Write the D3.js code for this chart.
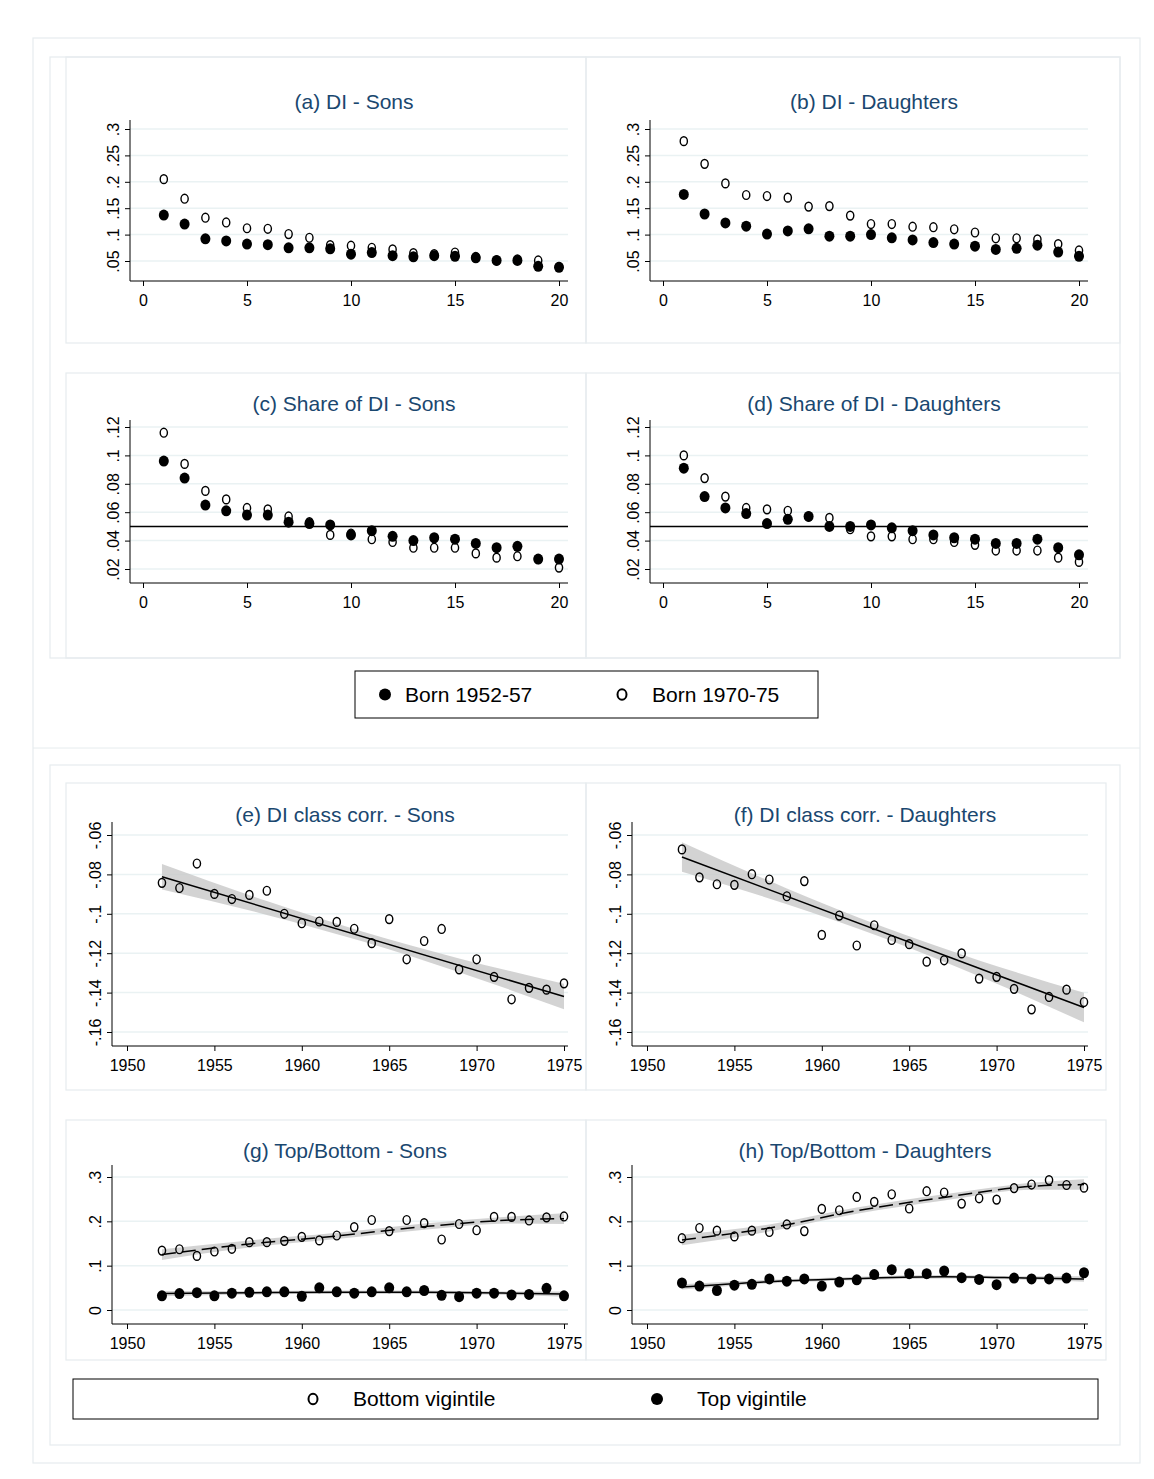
<!DOCTYPE html>
<html><head><meta charset="utf-8">
<script src="https://cdn.jsdelivr.net/npm/d3@7"></script>
<style>body{margin:0;background:#fff}text{font-family:"Liberation Sans",Arial,sans-serif}</style>
</head><body>
<script>
// ---- data ----
var rank = d3.range(1, 21);
var years = d3.range(1952, 1976);

var diSonsOld = [.137,.120,.092,.088,.082,.081,.075,.075,.073,.063,.066,.060,.058,.060,.059,.056,.051,.051,.040,.038];
var diSonsNew = [.205,.168,.132,.123,.112,.111,.101,.094,.080,.079,.075,.072,.065,.063,.066,.058,.051,.053,.051,.039];
var diDauOld  = [.176,.139,.122,.116,.101,.107,.111,.097,.097,.100,.094,.090,.085,.082,.078,.072,.074,.080,.067,.059];
var diDauNew  = [.277,.234,.197,.175,.173,.170,.153,.154,.136,.120,.120,.115,.114,.110,.104,.093,.093,.091,.082,.070];

var shSonsOld = [.096,.084,.065,.061,.058,.058,.053,.052,.051,.044,.047,.043,.040,.042,.041,.038,.035,.036,.027,.027];
var shSonsNew = [.116,.094,.075,.069,.063,.062,.057,.053,.044,.045,.041,.039,.035,.035,.035,.031,.028,.029,.027,.021];
var shDauOld  = [.091,.071,.063,.059,.052,.055,.057,.050,.050,.051,.049,.047,.044,.042,.041,.038,.038,.041,.035,.030];
var shDauNew  = [.100,.084,.071,.063,.062,.061,.057,.056,.048,.043,.043,.041,.041,.039,.037,.033,.033,.033,.028,.025];

var corrSons = [-.0843,-.0869,-.0745,-.0899,-.0925,-.0904,-.0883,-.100,-.1048,-.1039,-.1041,-.1076,-.1149,-.1027,-.1231,-.1138,-.1077,-.1282,-.1231,-.132,-.1434,-.1376,-.1385,-.1353];
var corrDau  = [-.0673,-.0815,-.085,-.0853,-.0799,-.0826,-.0911,-.0834,-.1107,-.1009,-.1161,-.1058,-.1133,-.1154,-.1243,-.1236,-.1201,-.1329,-.132,-.1381,-.1485,-.1422,-.1385,-.1448];
var corrFitYears = [1952, 1975];
var corrSonsFit = [-.0812, -.142];
var corrDauFit  = [-.0712, -.1476];
var corrBandYears = [1952, 1958, 1963.5, 1969, 1975];
var corrSonsBand = [.0065, .0035, .0025, .0035, .0065];
var corrDauBand  = [.0075, .004, .0028, .004, .0075];

var tbSonsBot = [.134,.137,.122,.132,.138,.153,.153,.156,.165,.157,.168,.187,.203,.178,.203,.196,.159,.194,.180,.210,.210,.202,.209,.211];
var tbSonsTop = [.032,.037,.039,.032,.038,.040,.041,.041,.031,.050,.041,.038,.041,.050,.041,.044,.033,.030,.038,.038,.034,.035,.049,.032];
var tbDauBot  = [.162,.185,.179,.166,.179,.176,.193,.178,.228,.225,.255,.244,.261,.229,.268,.265,.240,.252,.249,.275,.283,.293,.282,.276];
var tbDauTop  = [.061,.054,.044,.056,.058,.070,.065,.070,.054,.063,.068,.080,.091,.082,.082,.088,.073,.069,.057,.072,.070,.070,.072,.084];
var fitYears = [1952, 1957, 1962, 1967, 1972, 1975];
var tbSonsBotFit = [.125,.149,.167,.188,.203,.206];
var tbSonsTopFit = [.037,.039,.040,.040,.038,.036];
var tbDauBotFit  = [.158,.185,.224,.254,.279,.283];
var tbDauTopFit  = [.052,.064,.071,.075,.072,.070];
var botBand = [.012,.008,.007,.007,.008,.012];
var topBand = [.006,.004,.004,.004,.004,.006];

var titleColor = "#1a476f", grid = "#eaf2f3", boxLine = "#e6ecee";

var svg = d3.select("body").append("svg").attr("width", 1154).attr("height", 1479);

// frames
function box(x, y, w, h) {
  svg.append("rect").attr("x", x).attr("y", y).attr("width", w).attr("height", h)
    .attr("fill", "none").attr("stroke", boxLine).attr("stroke-width", 1.2);
}
box(33, 38, 1107, 1425);
svg.append("line").attr("x1", 33).attr("x2", 1140).attr("y1", 748).attr("y2", 748).attr("stroke", boxLine);
box(50, 57, 1070, 601);
box(66, 57, 520, 286); box(586, 57, 534, 286);
box(66, 373, 520, 285); box(586, 373, 534, 285);
box(50, 765, 1070, 680);
box(66, 783, 520, 307); box(586, 783, 520, 307);
box(66, 1120, 520, 240); box(586, 1120, 520, 240);

function panel(o) {
  var g = svg.append("g");
  var x = d3.scaleLinear().domain(o.xd).range(o.xr);
  var y = d3.scaleLinear().domain(o.yd).range(o.yr);
  g.append("text").attr("x", (o.ax + o.right) / 2 + 5).attr("y", o.ty).attr("text-anchor", "middle")
    .attr("font-size", 21).attr("fill", titleColor).text(o.title);
  o.yt.forEach(function (t) {
    g.append("line").attr("x1", o.ax).attr("x2", o.right).attr("y1", y(t)).attr("y2", y(t)).attr("stroke", grid).attr("stroke-width", 1.5);
  });
  var ya = g.append("g").attr("transform", "translate(" + o.ax + ",0)")
    .call(d3.axisLeft(y).tickValues(o.yt).tickSize(5).tickFormat(o.yf));
  ya.select(".domain").attr("d", "M0," + o.top + "V" + o.bottom);
  ya.selectAll("text").attr("font-size", 16).attr("text-anchor", "middle")
    .attr("x", null).attr("dy", null)
    .attr("transform", "translate(-11,0) rotate(-90)");
  ya.selectAll("line").attr("stroke", "#000");
  var xa = g.append("g").attr("transform", "translate(0," + o.bottom + ")")
    .call(d3.axisBottom(x).tickValues(o.xt).tickSize(5).tickFormat(d3.format("d")));
  xa.select(".domain").attr("d", "M" + o.ax + ",0H" + o.right);
  xa.selectAll("text").attr("font-size", 16).attr("dy", "1.05em");
  g.selectAll(".domain").attr("stroke", "#000");
  if (o.hline !== undefined) {
    g.append("line").attr("x1", o.ax).attr("x2", o.right).attr("y1", y(o.hline)).attr("y2", y(o.hline)).attr("stroke", "#000").attr("stroke-width", 1.5);
  }
  (o.bands || []).forEach(function (b) {
    var pts = b.xs.map(function (xv, i) { return { x: xv, lo: b.fit[i] - b.w[i], hi: b.fit[i] + b.w[i] }; });
    g.append("path").attr("fill", "#c8c8c8").attr("fill-opacity", 0.8)
      .attr("d", d3.area().curve(d3.curveMonotoneX).x(function (d) { return x(d.x); })
        .y0(function (d) { return y(d.lo); }).y1(function (d) { return y(d.hi); })(pts));
  });
  (o.lines || []).forEach(function (l) {
    var pts = l.xs.map(function (xv, i) { return [x(xv), y(l.ys[i])]; });
    g.append("path").attr("fill", "none").attr("stroke", "#000").attr("stroke-width", 1.5)
      .attr("stroke-dasharray", l.dash || null)
      .attr("d", d3.line().curve(d3.curveMonotoneX)(pts));
  });
  o.series.forEach(function (s) {
    g.selectAll(null).data(s.ys).enter().append("ellipse")
      .attr("cx", function (d, i) { return x(s.xs[i]); })
      .attr("cy", function (d) { return y(d); })
      .attr("rx", s.filled ? 5 : 3.6).attr("ry", s.filled ? 5.5 : 4.4)
      .attr("fill", s.filled ? "#000" : "none")
      .attr("stroke", "#000").attr("stroke-width", s.filled ? 0 : 1.4);
  });
}

var f2 = function (d) { return d3.format(".2f")(d).replace(/^0/, "").replace(/0$/, ""); };
var fc = function (d) { return d3.format(".2f")(d).replace("0.", ".").replace(/0$/, "").replace("\u2212", "-"); };

var colX = [0, 520];
["(a) DI - Sons", "(b) DI - Daughters"].forEach(function (t, k) {
  panel({ title: t, ty: 109, ax: 130 + colX[k], right: 568 + colX[k], top: 120, bottom: 281,
    xd: [0, 20], xr: [143 + colX[k], 559 + colX[k]], xt: [0, 5, 10, 15, 20],
    yd: [.05, .3], yr: [261, 129], yt: [.05, .1, .15, .2, .25, .3], yf: f2,
    series: [{ xs: rank, ys: k ? diDauOld : diSonsOld, filled: true }, { xs: rank, ys: k ? diDauNew : diSonsNew }] });
});
["(c) Share of DI - Sons", "(d) Share of DI - Daughters"].forEach(function (t, k) {
  panel({ title: t, ty: 411, ax: 130 + colX[k], right: 568 + colX[k], top: 420, bottom: 583,
    xd: [0, 20], xr: [143 + colX[k], 559 + colX[k]], xt: [0, 5, 10, 15, 20],
    yd: [.02, .12], yr: [569, 427], yt: [.02, .04, .06, .08, .1, .12], yf: f2, hline: .05,
    series: [{ xs: rank, ys: k ? shDauOld : shSonsOld, filled: true }, { xs: rank, ys: k ? shDauNew : shSonsNew }] });
});
["(e) DI class corr. - Sons", "(f) DI class corr. - Daughters"].forEach(function (t, k) {
  var fit = k ? corrDauFit : corrSonsFit;
  var bf = corrBandYears.map(function (yv) { return d3.scaleLinear().domain(corrFitYears).range(fit)(yv); });
  panel({ title: t, ty: 822, ax: 112 + colX[k], right: 568 + colX[k], top: 822, bottom: 1046,
    xd: [1950, 1975], xr: [127 + colX[k], 564 + colX[k]], xt: [1950, 1955, 1960, 1965, 1970, 1975],
    yd: [-.06, -.16], yr: [835, 1032], yt: [-.06, -.08, -.1, -.12, -.14, -.16], yf: fc,
    bands: [{ xs: corrBandYears, fit: bf, w: k ? corrDauBand : corrSonsBand }],
    lines: [{ xs: corrFitYears, ys: fit }],
    series: [{ xs: years, ys: k ? corrDau : corrSons }] });
});
["(g) Top/Bottom - Sons", "(h) Top/Bottom - Daughters"].forEach(function (t, k) {
  var bf = k ? tbDauBotFit : tbSonsBotFit, tf = k ? tbDauTopFit : tbSonsTopFit;
  panel({ title: t, ty: 1158, ax: 112 + colX[k], right: 568 + colX[k], top: 1165, bottom: 1324,
    xd: [1950, 1975], xr: [127 + colX[k], 564 + colX[k]], xt: [1950, 1955, 1960, 1965, 1970, 1975],
    yd: [0, .3], yr: [1310, 1177], yt: [0, .1, .2, .3], yf: function (d) { return d === 0 ? "0" : f2(d); },
    bands: [{ xs: fitYears, fit: bf, w: botBand }, { xs: fitYears, fit: tf, w: topBand }],
    lines: [{ xs: fitYears, ys: bf, dash: "14,6" }, { xs: fitYears, ys: tf }],
    series: [{ xs: years, ys: k ? tbDauBot : tbSonsBot }, { xs: years, ys: k ? tbDauTop : tbSonsTop, filled: true }] });
});

// legends
function legend(x, y, w, h, items) {
  svg.append("rect").attr("x", x).attr("y", y).attr("width", w).attr("height", h).attr("fill", "#fff").attr("stroke", "#000");
  items.forEach(function (it) {
    svg.append("ellipse").attr("cx", it.mx).attr("cy", y + h / 2).attr("rx", it.filled ? 6 : 4.5).attr("ry", it.filled ? 6 : 5.2)
      .attr("fill", it.filled ? "#000" : "none").attr("stroke", "#000").attr("stroke-width", it.filled ? 0 : 2);
    svg.append("text").attr("x", it.tx).attr("y", y + h / 2 + 7).attr("font-size", 21).text(it.label);
  });
}
legend(355, 671, 463, 47, [{ mx: 385, tx: 405, label: "Born 1952-57", filled: true }, { mx: 622, tx: 652, label: "Born 1970-75" }]);
legend(73, 1379, 1025, 40, [{ mx: 313, tx: 353, label: "Bottom vigintile" }, { mx: 657, tx: 697, label: "Top vigintile", filled: true }]);
</script>
</body></html>
